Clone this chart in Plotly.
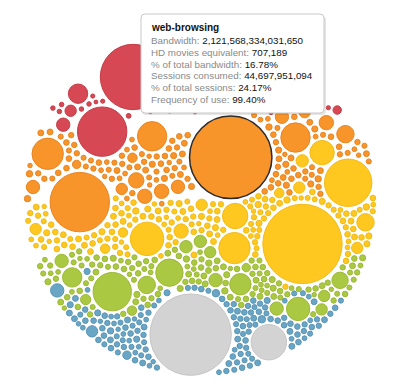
import numpy as np
import plotly.graph_objects as go

# ---------------------------------------------------------------- data
# frequency-of-use bands (top -> bottom of the bubble cloud)
band_names = ["band 1", "band 2", "band 3", "band 4", "band 5", "band 6"]
band_fill = ["#d64853", "#f7942a", "#fec820", "#abc842", "#69a5c5", "#d3d3d3"]
band_edge = ["#c53c47", "#ea8520", "#f2bb16", "#9cba35", "#5b96b6", "#c6c6c6"]
band_freq = [99.65, 99.39, 99.05, 98.78, 98.58, 98.49]   # typical frequency of use (%)

# labelled (larger) applications: band index, bandwidth (TB), frequency of use (%), share of sessions (%)
big_band = [0, 0, 0, 0, 0, 0, 0, 0, 0, 0, 0, 0,
            1, 1, 1, 1, 1, 1, 1, 1, 1, 1, 1, 1, 1, 1, 1, 1, 1,
            2, 2, 2, 2, 2, 2, 2, 2, 2, 2, 2, 2, 2, 2, 2, 2,
            3, 3, 3, 3, 3, 3, 3, 3, 3, 3, 3, 3, 3, 3, 3, 3, 3, 3,
            4, 4, 4, 4, 4,
            5, 5]
big_bw = [1341, 770, 123, 60, 44, 25, 596, 399, 241, 208, 123, 177,
          2121.568, 1109, 315, 277, 277, 79, 100, 69, 69, 69, 60, 60, 44, 44, 60, 31, 25,
          1971, 710, 356, 315, 208, 192, 100, 69, 52, 44, 44, 44, 44, 31, 31, 31,
          468, 241, 177, 149, 123, 100, 89, 60, 60, 60, 52, 52, 44, 44, 44, 37, 31, 25,
          60, 44, 25, 20, 20,
          2071, 399]
big_freq = [99.805, 99.53, 99.72, 99.555, 99.64, 99.64, 99.90, 99.88, 99.75, 99.69, 99.69, 99.71,
            99.40, 99.18, 99.42, 99.505, 99.485, 99.285, 99.495, 99.545, 99.21, 99.235, 99.255,
            99.255, 99.245, 99.605, 99.59, 99.405, 99.38,
            98.965, 99.275, 98.99, 98.94, 99.09, 99.42, 99.07, 99.01, 99.38, 98.965, 99.145,
            99.045, 99.255, 99.21, 99.015, 98.95,
            98.72, 98.805, 98.65, 98.76, 98.775, 98.745, 98.795, 98.865, 98.655, 98.78, 98.935,
            98.95, 98.64, 98.705, 98.905, 98.675, 98.635, 98.835,
            98.715, 98.535, 98.43, 98.72, 98.575,
            98.505, 98.47]
big_sess = [14.27, 11.17, 8.77, 7.27, 8.07, 34.67, 20.97, 26.17, 30.17, 22.97, 27.47, 18.77,
            24.17, 8.97, 5.87, 16.17, 30.47, 14.67, 35.27, 33.17, 15.57, 17.07, 18.47,
            4.27, 13.17, 31.57, 29.17, 14.27, 8.37,
            31.17, 35.67, 15.77, 24.57, 24.77, 33.17, 37.17, 19.17, 30.97, 36.97, 21.37,
            4.57, 30.57, 28.77, 13.47, 11.57,
            12.27, 18.17, 30.67, 24.87, 8.17, 15.77, 34.67, 7.17, 28.27, 22.87, 19.67,
            20.97, 32.77, 33.07, 21.87, 9.67, 14.67, 25.67,
            6.97, 9.77, 13.57, 22.67, 27.27,
            20.07, 28.07]
highlight = 12   # web-browsing

# small applications (bandwidth, TB) per band
red_dots = [7, 8, 6, 9, 7, 8, 7, 6, 8, 9, 7, 8, 6, 7, 9, 8, 7, 6, 8, 7,
            9, 7, 8, 6, 7, 8, 9, 7, 6, 8]
orange_dots = [10, 12, 9, 13, 11, 8, 12, 14, 10, 11, 9, 12, 13, 10, 11, 15, 9, 12, 10, 11,
               13, 8, 11, 12, 10, 14, 9, 11, 12, 13, 10, 9, 12, 11, 14, 10, 8, 13, 11, 12,
               9, 10, 12, 15, 11, 10, 13, 9, 11, 12, 10, 14, 12, 9, 11, 13, 10, 8, 12, 11,
               14, 10, 9, 12, 13, 11, 10, 12, 9, 15, 11, 10, 13, 12, 8, 11, 10, 14, 9, 12,
               11, 13, 10, 12, 9, 11, 14, 10, 12, 8, 13, 11, 10, 9, 12, 15, 11, 10, 13, 12,
               9, 11, 12, 10, 14, 8, 11, 13, 10, 12, 9, 11, 12, 14, 10, 13, 9, 11, 12, 10]
yellow_dots = [11, 9, 12, 10, 13, 8, 11, 12, 14, 10, 9, 11, 13, 12, 10, 8, 12, 11, 15, 10,
               12, 9, 11, 13, 10, 12, 14, 9, 11, 10, 12, 13, 8, 11, 10, 12, 9, 14, 11, 12,
               10, 13, 11, 9, 12, 10, 15, 11, 12, 8, 10, 13, 12, 11, 9, 12, 10, 14, 11, 13,
               9, 12, 10, 11, 13, 8, 12, 11, 10, 14, 12, 9, 11, 13, 10, 12, 11, 9, 15, 10,
               12, 11, 13, 10, 9, 12, 14, 11, 10, 12, 8, 13, 11, 10, 12, 9, 11, 14, 12, 10,
               13, 11, 9, 12, 10, 11, 13, 12, 8, 10, 14, 11, 12, 9, 13, 10, 11, 12, 10, 15,
               9, 11, 12, 13, 10, 11, 9, 12, 14, 10, 11, 13, 12, 8, 11, 10, 12, 9, 13, 11,
               10, 12, 11, 14, 9, 12, 10, 13, 11, 12]
green_dots = [12, 10, 11, 13, 9, 12, 14, 10, 11, 8, 12, 13, 10, 11, 9, 12, 15, 11, 10, 12,
              13, 9, 11, 12, 10, 14, 11, 8, 12, 10, 13, 11, 9, 12, 10, 11, 14, 12, 9, 13,
              10, 11, 12, 8, 13, 10, 12, 11, 9, 14, 11, 10, 12, 13, 9, 11, 12, 10, 15, 11,
              9, 12, 10, 13, 11, 12, 8, 10, 14, 11, 12, 9, 13, 10, 11, 12, 10, 9, 13, 11,
              12, 10, 14, 11, 9, 12, 13, 10, 11, 8, 12, 11, 10, 13, 9, 12, 11, 14, 10, 12,
              11, 9, 13, 10, 12, 11, 10, 15, 9, 12, 13, 11, 10, 12, 9, 11, 14, 10, 12, 11,
              10, 13, 9, 12, 11, 10, 12, 8, 11, 13]
blue_dots = [11, 10, 12, 9, 13, 11, 10, 12, 8, 11, 14, 10, 12, 9, 11, 13, 10, 12, 11, 9,
             12, 10, 13, 11, 8, 12, 10, 11, 14, 9, 12, 11, 10, 13, 9, 11, 12, 10, 12, 11,
             9, 13, 10, 12, 11, 15, 10, 9, 12, 11, 13, 10, 11, 12, 8, 10, 13, 11, 12, 9,
             11, 10, 12, 13, 9, 11, 12, 10, 14, 11, 10, 12, 9, 11, 13, 12, 10, 8, 11, 12,
             10, 13, 11, 9, 12, 10, 11, 14, 12, 10, 9, 11, 13, 10, 12, 11, 9, 12, 10, 13,
             11, 12, 10, 9, 14, 11, 12, 10, 13, 11, 9, 12, 10, 11, 12, 8, 13, 10, 11, 12,
             10, 9, 12, 11, 13, 10, 12, 11, 9, 10, 12, 14, 11, 10, 12, 9, 11, 13, 10, 12]
gray_dots = []
dots_by_band = [red_dots, orange_dots, yellow_dots, green_dots, blue_dots, gray_dots]

tip_title = "web-browsing"
tip_labels = ["Bandwidth:", "HD movies equivalent:", "% of total bandwidth:",
              "Sessions consumed:", "% of total sessions:", "Frequency of use:"]
tip_values = ["2,121,568,334,031,650", "707,189", "16.78%", "44,697,951,094", "24.17%", "99.40%"]

# ---------------------------------------------------------------- scales / layout
W, H = 400, 386
CX, CY, RAD = 200.0, 200.0, 176.0
R_WEB = 41.5                       # px radius of web-browsing bubble
TB_PER_PX2 = big_bw[highlight] / R_WEB ** 2


def rscale(bw):
    return np.sqrt(np.asarray(bw, float) / TB_PER_PX2)


def yscale(f):
    return 158.0 + (99.40 - np.asarray(f, float)) * 200.0


def xscale(s):
    return 232.0 + (np.asarray(s, float) - 24.17) * 10.0


band_half = [12, 45, 35, 30, 35, 20]
band_pull = [0.15, 0.05, 0.05, 0.05, 0.05, 0.05]

r_list, tx, ty, pin, band, kp = [], [], [], [], [], []
for b, bw, f, s in zip(big_band, big_bw, big_freq, big_sess):
    r_list.append(float(rscale(bw))); tx.append(float(xscale(s))); ty.append(float(yscale(f)))
    pin.append(True); band.append(b); kp.append(0.0)
seed = []
for b, dots in enumerate(dots_by_band):
    yc = float(yscale(band_freq[b]))
    for k, bw in enumerate(dots):
        r_list.append(float(rscale(bw))); tx.append(CX); ty.append(yc); pin.append(False); band.append(b)
        kp.append(band_pull[b])
        u = (0.5 + k * 0.5698402910) % 1.0
        v = (0.5 + k * 0.7548776662) % 1.0
        yy = yc + (2 * v - 1) * band_half[b]
        yy = min(max(yy, CY - RAD + 5), CY + RAD - 5)
        half = np.sqrt(max(RAD ** 2 - (yy - CY) ** 2, 1.0)) - 5
        seed.append((CX + (2 * u - 1) * half, yy))

r = np.array(r_list); tx = np.array(tx); ty = np.array(ty); kp = np.array(kp)
pin = np.array(pin); band = np.array(band)
n = len(r)
pos = np.zeros((n, 2))
pos[pin, 0] = tx[pin]; pos[pin, 1] = ty[pin]
pos[~pin] = np.array(seed)
mass = r ** 2
C = np.array([CX, CY])


def find_pairs(p, margin=10.0):
    d = np.sqrt(((p[:, None, :] - p[None, :, :]) ** 2).sum(-1))
    g = d - (r[:, None] + r[None, :])
    iu, ju = np.triu_indices(n, 1)
    m = g[iu, ju] < margin
    return iu[m], ju[m]


def collide(p, pairs, relax=0.5):
    i, j = pairs
    dv = p[j] - p[i]
    dist = np.hypot(dv[:, 0], dv[:, 1]) + 1e-9
    need = r[i] + r[j] + 2.0 + 0.04 * (r[i] + r[j])
    ov = need - dist
    k = ov > 0
    if not k.any():
        return
    i, j, dv, dist, ov = i[k], j[k], dv[k], dist[k], ov[k]
    wi = mass[j] / (mass[i] + mass[j])
    sh = dv / dist[:, None] * (ov * relax)[:, None]
    disp = np.zeros_like(p)
    np.add.at(disp, i, -sh * wi[:, None])
    np.add.at(disp, j, sh * (1 - wi)[:, None])
    p += disp


def contain(p):
    v = p - C
    dd = np.hypot(v[:, 0], v[:, 1]) + 1e-9
    lim = RAD - r
    o = dd > lim
    p[o] = C + v[o] * (lim[o] / dd[o])[:, None]


ITER = 320
free = ~pin
pairs = find_pairs(pos)
for it in range(ITER):
    a = max(0.0, 1.0 - it / (0.75 * ITER))
    pos[pin] += (np.c_[tx, ty][pin] - pos[pin]) * 0.25
    pos[free, 1] += (ty[free] - pos[free, 1]) * kp[free] * a
    if it % 4 == 0:
        pairs = find_pairs(pos)
    for _ in range(3):
        collide(pos, pairs)
    contain(pos)
for it in range(80):
    if it % 4 == 0:
        pairs = find_pairs(pos)
    collide(pos, pairs, 0.6)
    contain(pos)

# ---------------------------------------------------------------- figure
fig = go.Figure()
for b in range(len(band_names)):
    idx = np.where(band == b)[0]
    if len(idx) == 0:
        continue
    lc = [("#2b2b2b" if i == highlight else band_edge[b]) for i in idx]
    lw = [(1.5 if i == highlight else 1.0) for i in idx]
    fig.add_trace(go.Scatter(
        x=pos[idx, 0], y=pos[idx, 1], mode="markers", name=band_names[b],
        marker=dict(size=2 * r[idx] - 0.6, color=band_fill[b], opacity=1,
                    line=dict(color=lc, width=lw)),
        hoverinfo="skip", showlegend=False))

# tooltip box
x0, y0, x1, y1, cr = 141, 14, 324, 113, 4


def rpath(x0, y0, x1, y1, c):
    return (f"M{x0 + c},{y0} L{x1 - c},{y0} Q{x1},{y0} {x1},{y0 + c} L{x1},{y1 - c} "
            f"Q{x1},{y1} {x1 - c},{y1} L{x0 + c},{y1} Q{x0},{y1} {x0},{y1 - c} "
            f"L{x0},{y0 + c} Q{x0},{y0} {x0 + c},{y0} Z")


fig.add_shape(type="path", path=rpath(x0 + 1, y0 + 2, x1 + 2, y1 + 2, cr), xref="x", yref="y",
              fillcolor="rgba(0,0,0,0.10)", line=dict(width=0), layer="above")
fig.add_shape(type="path", path=rpath(x0, y0, x1, y1, cr), xref="x", yref="y",
              fillcolor="white", line=dict(color="#c9c9c9", width=1), layer="above")
FONT = "Liberation Sans, Arial, Helvetica, sans-serif"
fig.add_annotation(x=149, y=27.5, xref="x", yref="y", text=f"<b>{tip_title}</b>", showarrow=False,
                   xanchor="left", yanchor="middle", font=dict(family=FONT, size=10, color="#111"))
for k, (lab, val) in enumerate(zip(tip_labels, tip_values)):
    fig.add_annotation(x=149, y=40.5 + k * 11.8, xref="x", yref="y",
                       text=f"<span style='color:#8a8a8a'>{lab}</span> {val}", showarrow=False,
                       xanchor="left", yanchor="middle", font=dict(family=FONT, size=9.8, color="#111"))

fig.update_xaxes(range=[0, W], visible=False, fixedrange=True)
fig.update_yaxes(range=[H, 0], visible=False, fixedrange=True)
fig.update_layout(width=W, height=H, margin=dict(l=0, r=0, t=0, b=0), autosize=False,
                  paper_bgcolor="white", plot_bgcolor="white", showlegend=False)
fig.write_html("out.html", config={"displayModeBar": False},
               post_script="document.body.style.margin='0';document.body.style.overflow='hidden';")
